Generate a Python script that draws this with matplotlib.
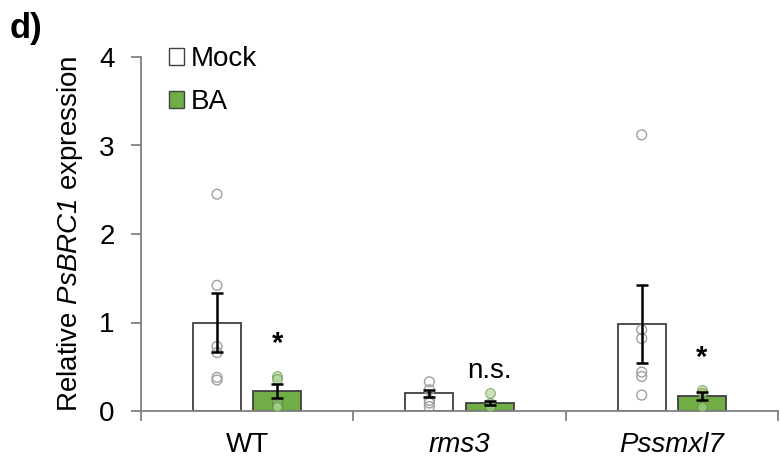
import numpy as np
import matplotlib
matplotlib.use('Agg')
import matplotlib.pyplot as plt
from matplotlib.patches import Patch

plt.rcParams['font.family'] = ['Liberation Sans', 'DejaVu Sans']
# only the gene name is in math mode, so both slots can be italic
plt.rcParams['mathtext.fontset'] = 'custom'
plt.rcParams['mathtext.rm'] = 'Liberation Sans:italic'
plt.rcParams['mathtext.it'] = 'Liberation Sans:italic'

genotypes = ['WT', 'rms3', 'Pssmxl7']
mock_mean = [1.00, 0.20, 0.98]
mock_se = [0.33, 0.04, 0.44]
ba_mean = [0.23, 0.09, 0.17]
ba_se = [0.08, 0.02, 0.05]

mock_points = [
    [2.45, 1.42, 0.73, 0.66, 0.38, 0.35],
    [0.33, 0.24, 0.12, 0.09, 0.05],
    [3.12, 0.92, 0.82, 0.44, 0.39, 0.18],
]
ba_points = [
    [0.39, 0.36, 0.10, 0.07, 0.04],
    [0.20, 0.09, 0.05],
    [0.24, 0.20, 0.05],
]
signif = ['*', 'n.s.', '*']
signif_y = [0.67, 0.37, 0.51]

green = '#70ad47'

fig = plt.figure(figsize=(7.8, 4.69), dpi=100)
ax = fig.add_axes([141 / 780, 1 - 411 / 469, 637 / 780, 354 / 469])

x = np.arange(len(genotypes))
off = 0.142
w = 0.227

ax.bar(x - off, mock_mean, w, color='white', edgecolor='#404040', linewidth=1.3, zorder=2)
ax.bar(x + off, ba_mean, w, color=green, edgecolor='#404040', linewidth=1.3, zorder=2)

for i in range(len(genotypes)):
    ax.scatter([x[i] - off] * len(mock_points[i]), mock_points[i], s=50,
               facecolor='none', edgecolor='#a0a0a0', linewidth=1.0, zorder=3)
    ax.scatter([x[i] + off] * len(ba_points[i]), ba_points[i], s=50,
               facecolor='#a9d18e', edgecolor='#548235', linewidth=0.8, alpha=0.6, zorder=3)
    if signif[i] == '*':
        ax.text(x[i] + off, signif_y[i], '*', ha='center', va='baseline',
                fontsize=21, fontweight='bold')
    else:
        ax.text(x[i] + off, signif_y[i], signif[i], ha='center', va='baseline', fontsize=20)

ax.errorbar(x - off, mock_mean, yerr=mock_se, fmt='none', ecolor='black',
            elinewidth=1.8, capsize=4.5, capthick=1.8, zorder=4)
ax.errorbar(x + off, ba_mean, yerr=ba_se, fmt='none', ecolor='black',
            elinewidth=1.8, capsize=4.5, capthick=1.8, zorder=4)

ax.set_xlim(-0.5, 2.5)
ax.set_ylim(0, 4)
ax.set_yticks([0, 1, 2, 3, 4])
ax.set_xticks(x)
ax.set_xticklabels(genotypes, fontsize=20)
for lab in ax.get_xticklabels()[1:]:
    lab.set_style('italic')
ax.set_xticks([-0.5, 0.5, 1.5, 2.5], minor=True)
ax.tick_params(axis='x', which='major', length=0, pad=15)
ax.tick_params(axis='x', which='minor', length=7, color='#808080', width=1.3)
ax.tick_params(axis='y', labelsize=20, length=7, color='#808080', width=1.3, pad=12)

for s in ['top', 'right']:
    ax.spines[s].set_visible(False)
for s in ['left', 'bottom']:
    ax.spines[s].set_color('#808080')
    ax.spines[s].set_linewidth(1.3)

ax.set_ylabel('Relative $PsBRC1$ expression', fontsize=20, labelpad=10)

handles = [Patch(facecolor='white', edgecolor='#404040', label='Mock'),
           Patch(facecolor=green, edgecolor='#404040', label='BA')]
fig.legend(handles=handles, loc='upper left', bbox_to_anchor=(169 / 780, 1 - 46 / 469),
           frameon=False, fontsize=20, handlelength=0.55, handleheight=0.55,
           handletextpad=0.25, labelspacing=0.62, borderpad=0, borderaxespad=0)

fig.text(0.012, 0.975, 'd)', fontsize=25, fontweight='bold', va='top', ha='left')

fig.savefig('out.png', dpi=100)
